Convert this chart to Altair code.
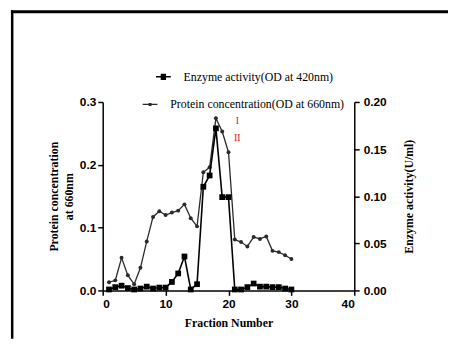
import altair as alt
import pandas as pd

# ---- data ----
fraction = list(range(1, 31))
protein = [0.013, 0.016, 0.052, 0.024, 0.010, 0.036, 0.078, 0.117, 0.126, 0.120,
           0.124, 0.127, 0.137, 0.115, 0.102, 0.188, 0.196, 0.274, 0.253, 0.220,
           0.081, 0.077, 0.070, 0.085, 0.082, 0.086, 0.063, 0.061, 0.056, 0.050]
enzyme = [0.001, 0.0035, 0.005, 0.0025, 0.001, 0.002, 0.004, 0.002, 0.003, 0.003,
          0.009, 0.018, 0.036, 0.001, 0.0066, 0.110, 0.122, 0.172, 0.099, 0.099,
          0.001, 0.001, 0.0035, 0.0073, 0.004, 0.004, 0.0035, 0.0035, 0.002, 0.001]
enzyme_label = "Enzyme activity(OD at 420nm)"
protein_label = "Protein concentration(OD at 660nm)"
annot_text = ["I", "II"]
annot_x = [21.4, 21.4]
annot_y = [0.270, 0.243]
x_ticks = [0, 10, 20, 30, 40]
left_ticks = [0.0, 0.1, 0.2, 0.3]
right_ticks = [0.0, 0.05, 0.10, 0.15, 0.20]

df = pd.DataFrame({"fraction": fraction, "protein": protein, "enzyme": enzyme,
                   "ps": [protein_label] * len(fraction),
                   "es": [enzyme_label] * len(fraction)})
ann = pd.DataFrame({"t": annot_text, "fraction": annot_x, "protein": annot_y})

LAB = dict(labelFont="Liberation Sans", labelFontWeight="bold", labelFontSize=12,
           labelColor="black", titleFont="Liberation Serif", titleFontWeight="bold",
           titleFontSize=12, titleColor="black", tickSize=5, tickWidth=1.5,
           domainWidth=1.5, domainColor="black", tickColor="black", grid=False)

X = alt.X("fraction:Q", scale=alt.Scale(domain=[0, 40], nice=False),
          axis=alt.Axis(values=x_ticks, format="d", title="Fraction Number",
                        labelPadding=3, titlePadding=9, **LAB))
YL = alt.Y("protein:Q", scale=alt.Scale(domain=[0, 0.3], nice=False),
           axis=alt.Axis(orient="left", values=left_ticks, format=".1f",
                         title=["Protein concentration", "at 660nm"],
                         titleLineHeight=15,
                         labelPadding=2, titlePadding=4, **LAB))
YR = alt.Y("enzyme:Q", scale=alt.Scale(domain=[0, 0.2], nice=False),
           axis=alt.Axis(orient="right", values=right_ticks, format=".2f",
                         title="Enzyme activity(U/ml)", titleAngle=270,
                         titleBaseline="top",
                         labelPadding=4, titlePadding=18, **LAB))

enz_path = ("M-1,0H1 M-0.36,-0.33H0.36 M-0.36,-0.17H0.36 M-0.36,0H0.36 "
            "M-0.36,0.17H0.36 M-0.36,0.33H0.36")
pro_path = "M-1,0H1 M-0.2,-0.12H0.2 M-0.2,0H0.2 M-0.2,0.12H0.2"

LEG = dict(orient="none", title=None, labelFont="Liberation Serif", labelFontSize=12,
           labelColor="black", padding=0, symbolSize=225, labelOffset=12,
           labelLimit=400)

p_line = alt.Chart(df).mark_line(strokeWidth=1.3).encode(
    x=X, y=YL,
    color=alt.Color("ps:N", scale=alt.Scale(range=["#2a2a2a"]),
                    legend=alt.Legend(legendX=39.5, legendY=-6, symbolType=pro_path,
                                      symbolStrokeWidth=1.3, **LEG)))
p_pts = alt.Chart(df).mark_point(filled=True, shape="circle", size=16,
                                 color="#2a2a2a", opacity=1).encode(x=X, y=YL)
annot = alt.Chart(ann).mark_text(color="#e02020", font="Liberation Serif",
                                 fontSize=10).encode(x=X, y=YL, text="t:N")
left = alt.layer(p_line, p_pts, annot)

e_line = alt.Chart(df).mark_line(strokeWidth=1.6).encode(
    x=X, y=YR,
    color=alt.Color("es:N", scale=alt.Scale(range=["black"]),
                    legend=alt.Legend(legendX=53, legendY=-34, symbolType=enz_path,
                                      symbolStrokeWidth=1.5, **LEG)))
e_pts = alt.Chart(df).mark_point(filled=True, shape="square", size=34,
                                 color="black", opacity=1).encode(x=X, y=YR)
right = alt.layer(e_line, e_pts)

# decorative frame (left and top edges of the figure box), filled rects
one = pd.DataFrame({"a": [0]})
vborder = alt.Chart(one).mark_rect(color="black", strokeWidth=0).encode(
    x=alt.value(-93), x2=alt.value(-90.5), y=alt.value(-93), y2=alt.value(240))
hborder = alt.Chart(one).mark_rect(color="black", strokeWidth=0).encode(
    x=alt.value(-93), x2=alt.value(350), y=alt.value(-93), y2=alt.value(-90))

chart = alt.layer(left, right, vborder, hborder).resolve_scale(
    y="independent", color="independent"
).properties(
    width=255, height=191,
    padding={"left": 3, "top": 0, "right": 0, "bottom": 0}
).configure_view(stroke=None)

chart.save("out.html", embed_options={"renderer": "svg", "actions": False})
